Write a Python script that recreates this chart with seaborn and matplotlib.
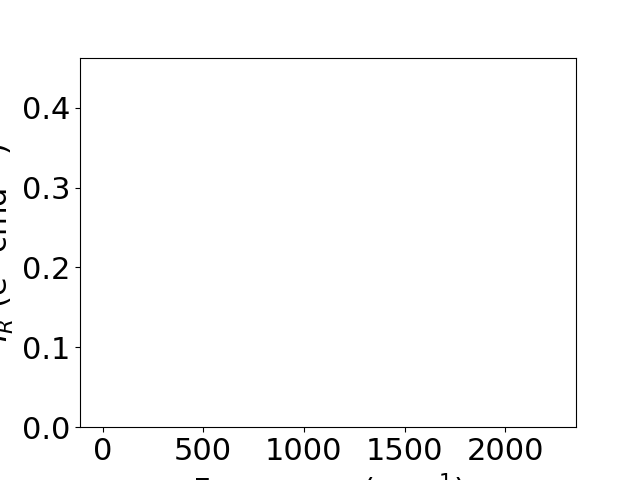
import matplotlib
matplotlib.use("Agg")
import matplotlib.pyplot as plt
import seaborn as sns

# data range of the (empty) spectrum
energy_range = [0, 2239]      # cm^-1
intensity_range = [0, 0.4407]
x_ticks = [0, 500, 1000, 1500, 2000]
y_ticks = [0.0, 0.1, 0.2, 0.3, 0.4]

sns.set_style("ticks", {"axes.edgecolor": "black", "xtick.color": "black",
                        "ytick.color": "black", "axes.labelcolor": "black"})
plt.rcParams["font.family"] = ["DejaVu Sans"]

fig, ax = plt.subplots(figsize=(6.4, 4.8), dpi=100)
span = energy_range[1] - energy_range[0]
ax.set_xlim(energy_range[0] - 0.05 * span, energy_range[1] + 0.05 * span)
ax.set_ylim(0, intensity_range[1] * 1.05)
ax.set_xticks(x_ticks)
ax.set_yticks(y_ticks)
ax.tick_params(labelsize=22, width=0.8, length=3.5)
for s in ax.spines.values():
    s.set_linewidth(0.8)
ax.set_xlabel("Frequency (cm$^{-1}$)", fontsize=22)
ax.set_ylabel("$I_R$ (e$^2$ cmd$^{-1}$)", fontsize=22)

fig.savefig("out.png", dpi=100)
